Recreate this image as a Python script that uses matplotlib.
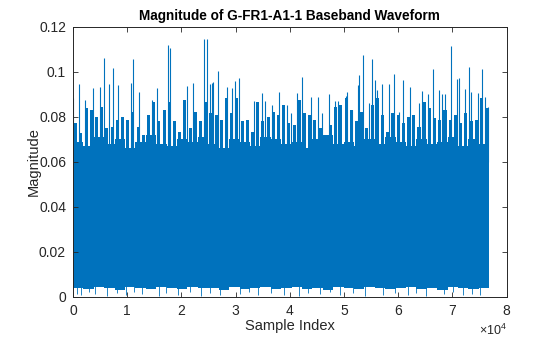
import numpy as np
import matplotlib
matplotlib.use("Agg")
import matplotlib.pyplot as plt

plt.rcParams["font.family"] = ["Liberation Sans", "DejaVu Sans"]
plt.rcParams["mathtext.fontset"] = "custom"
plt.rcParams["mathtext.rm"] = "Liberation Sans"
plt.rcParams["mathtext.it"] = "Liberation Sans"

N_SAMPLES = 76800
BLUE = "#0072BD"
INK = "#262626"

# ragged upper edge of the dense band, one value per 960 samples
edge_mag = [
    0.0772, 0.0727, 0.0839, 0.0831, 0.0801, 0.0846, 0.0750, 0.0757, 0.0787, 0.0801,
    0.0787, 0.0824, 0.0757, 0.0720, 0.0809, 0.0868, 0.0780, 0.0831, 0.0868, 0.0780,
    0.0735, 0.0876, 0.0750, 0.0824, 0.0780, 0.0868, 0.0816, 0.0809,
    0.0787, 0.0883, 0.0816, 0.0883, 0.0780, 0.0787, 0.0735, 0.0868, 0.0780, 0.0801,
    0.0824, 0.0809, 0.0853, 0.0772, 0.0765, 0.0876, 0.0816, 0.0809, 0.0787, 0.0750,
    0.0720, 0.0765, 0.0846, 0.0853, 0.0883, 0.0831, 0.0780, 0.0824,
    0.0750, 0.0853, 0.0883, 0.0809, 0.0735, 0.0816, 0.0809, 0.0772, 0.0801, 0.0809,
    0.0757, 0.0868, 0.0839, 0.0794, 0.0787, 0.0831, 0.0787, 0.0809, 0.0772, 0.0816,
    0.0780, 0.0787, 0.0883, 0.0839,
]

# solid core top and floor, one value per 1920 samples
core_mag = [
    0.069, 0.067, 0.071, 0.068, 0.070, 0.066, 0.069, 0.072, 0.068, 0.067,
    0.070, 0.069, 0.071, 0.068, 0.066, 0.070, 0.069, 0.067, 0.071, 0.070,
    0.068, 0.069, 0.066, 0.070, 0.072, 0.068, 0.069, 0.067, 0.070, 0.068,
    0.071, 0.069, 0.067, 0.070, 0.068, 0.069, 0.071, 0.067, 0.070, 0.068,
]
floor_mag = [
    0.004, 0.0035, 0.0045, 0.004, 0.003, 0.0045, 0.004, 0.0035, 0.0045, 0.004,
    0.0035, 0.0045, 0.004, 0.004, 0.003, 0.0045, 0.0035, 0.004, 0.0045, 0.0035,
    0.004, 0.0045, 0.0035, 0.004, 0.003, 0.0045, 0.004, 0.0035, 0.0045, 0.004,
    0.0035, 0.004, 0.0045, 0.0035, 0.004, 0.003, 0.0045, 0.004, 0.0035, 0.004,
]

# isolated peaks above the band
spike_idx = [
    0, 1100, 2200, 3750, 5000, 5700, 6640, 7320, 8360, 10760, 11010, 12180,
    14520, 15560, 17530, 17900, 20980, 22080, 24170, 24670, 25280, 25590, 25890,
    26810, 28360, 29300, 29830, 30570, 33390, 34870, 35480, 36700, 38060, 39420,
    40220, 41270, 42190, 43910, 45260, 46000, 47290, 48340, 48950, 50310, 50610,
    51420, 52640, 52820, 53450, 54670, 55170, 55660, 56030, 57010, 58250, 59170,
    60210, 60940, 62180, 63840, 64330, 65440, 66370, 67470, 68080, 68690, 69740,
    70790, 71270, 72320, 73060, 73430, 74780, 75520, 76010, 76510,
]
spike_mag = [
    0.0886, 0.0945, 0.0876, 0.0929, 0.0935, 0.1064, 0.0945, 0.1016, 0.0944, 0.0950, 0.1056, 0.0913,
    0.0876, 0.0927, 0.1120, 0.1105, 0.0938, 0.0950, 0.1145, 0.1145, 0.0945, 0.0950, 0.0956,
    0.1006, 0.0935, 0.0930, 0.0960, 0.0975, 0.0870, 0.0908, 0.0870, 0.0852, 0.0910, 0.0855,
    0.0818, 0.0905, 0.0979, 0.0887, 0.0887, 0.0818, 0.0902, 0.0869, 0.0869, 0.0892, 0.0911,
    0.0833, 0.0942, 0.0987, 0.1076, 0.0862, 0.1056, 0.0966, 0.0919, 0.0945, 0.0945, 0.0991,
    0.0820, 0.0964, 0.0932, 0.0862, 0.0916, 0.0901, 0.1012, 0.0919, 0.0901, 0.0902, 0.1116,
    0.0968, 0.0975, 0.0923, 0.1024, 0.0913, 0.0905, 0.1012, 0.0887, 0.0843,
]

# deepest dips toward zero
dip_idx = [
    700, 1500, 3000, 4100, 6200, 8100, 9800, 11300, 12700, 15900, 17200, 19400,
    21500, 23600, 25200, 27100, 30800, 32400, 34200, 36600, 38900, 41700, 43300,
    45600, 47500, 49300, 51600, 53800, 57200, 59500, 61900, 63200, 65100, 68400,
    70100, 71900, 73600, 75100,
]
dip_mag = [
    0.0015, 0.0008, 0.0020, 0.0012, 0.0005, 0.0018, 0.0010, 0.0022, 0.0015, 0.0006,
    0.0019, 0.0011, 0.0021, 0.0004, 0.0017, 0.0009, 0.0013, 0.0020, 0.0007, 0.0016,
    0.0010, 0.0005, 0.0018, 0.0012, 0.0021, 0.0008, 0.0016, 0.0006, 0.0011, 0.0019,
    0.0009, 0.0017, 0.0004, 0.0013, 0.0020, 0.0007, 0.0015, 0.0010,
]

x_ticks = [0, 10000, 20000, 30000, 40000, 50000, 60000, 70000, 80000]
x_labels = ["0", "1", "2", "3", "4", "5", "6", "7", "8"]
y_ticks = [0, 0.02, 0.04, 0.06, 0.08, 0.1, 0.12]
y_labels = ["0", "0.02", "0.04", "0.06", "0.08", "0.1", "0.12"]

fig = plt.figure(figsize=(5.6, 3.37), dpi=100)
ax = fig.add_axes([0.1304, 0.1187, 0.7742, 0.8012])

# dense core of the waveform
core_x = np.append(np.arange(len(core_mag)) * 1920, N_SAMPLES)
ax.fill_between(core_x, np.append(floor_mag, floor_mag[-1]),
                np.append(core_mag, core_mag[-1]),
                step="post", color=BLUE, linewidth=0)

# ragged top of the band
edge_x = np.arange(len(edge_mag)) * 960 + 480
ax.bar(edge_x, np.array(edge_mag) - 0.05, bottom=0.05, width=560,
       color=BLUE, linewidth=0)

ax.vlines(spike_idx, 0.06, spike_mag, color=BLUE, linewidth=0.8)
ax.vlines(dip_idx, dip_mag, 0.01, color=BLUE, linewidth=0.6)

ax.set_xlim(0, 80000)
ax.set_ylim(0, 0.12)
ax.set_xticks(x_ticks)
ax.set_xticklabels(x_labels)
ax.set_yticks(y_ticks)
ax.set_yticklabels(y_labels)

ax.tick_params(direction="in", length=3.5, width=0.6, colors=INK,
               labelsize=10, top=True, right=True, pad=5)
for s in ax.spines.values():
    s.set_color(INK)
    s.set_linewidth(0.7)

ax.set_title("Magnitude of G-FR1-A1-1 Baseband Waveform",
             fontsize=9.8, fontweight="bold", color="black", pad=5)
ax.set_xlabel("Sample Index", fontsize=10.5, color=INK, labelpad=1)
ax.set_ylabel("Magnitude", fontsize=10.5, color=INK, labelpad=-1)
ax.text(1.0, -0.095, r"$\times10^{4}$", transform=ax.transAxes,
        ha="right", va="top", fontsize=9, color=INK)

fig.savefig("out.png", dpi=100)
